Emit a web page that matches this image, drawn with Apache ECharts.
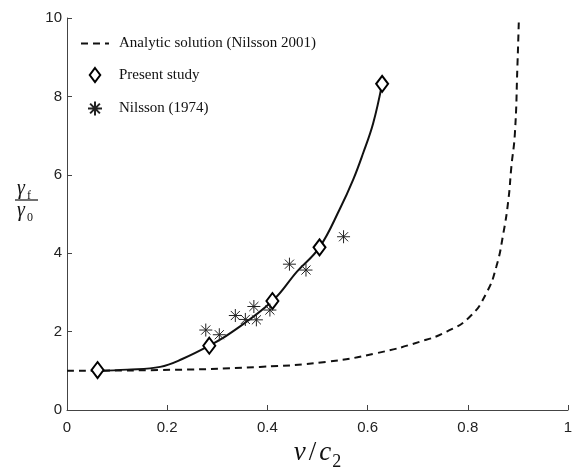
<!DOCTYPE html>
<html>
<head>
<meta charset="utf-8">
<script src="https://cdn.jsdelivr.net/npm/echarts@6/dist/echarts.min.js"></script>
<style>
html,body{margin:0;padding:0;background:#fff;}
#main{width:578px;height:469px;}
</style>
</head>
<body>
<div id="main"></div>
<script>
// analytic curve (dashed)
var analyticX = [0, 0.186, 0.385, 0.518, 0.618, 0.704, 0.758, 0.804, 0.837, 0.857, 0.871, 0.881, 0.887, 0.894, 0.899, 0.902];
var analyticY = [1.0, 1.02, 1.10, 1.23, 1.45, 1.74, 2.0, 2.38, 2.98, 3.66, 4.51, 5.36, 6.21, 7.06, 8.76, 10.0];
// fitted curve through present study (solid)
var fitX = [0.06, 0.12, 0.186, 0.23, 0.284, 0.326, 0.41, 0.459, 0.504, 0.545, 0.571, 0.591, 0.611, 0.629];
var fitY = [1.0, 1.03, 1.10, 1.30, 1.64, 1.96, 2.78, 3.53, 4.15, 5.14, 5.87, 6.55, 7.31, 8.32];
// present study points
var presentX = [0.061, 0.284, 0.41, 0.504, 0.629];
var presentY = [1.02, 1.64, 2.78, 4.15, 8.32];
// Nilsson (1974) points
var nilssonX = [0.277, 0.304, 0.336, 0.356, 0.378, 0.373, 0.405, 0.444, 0.477, 0.552];
var nilssonY = [2.04, 1.92, 2.41, 2.31, 2.30, 2.64, 2.55, 3.72, 3.57, 4.42];

var xTicks = [0, 0.2, 0.4, 0.6, 0.8, 1];
var yTicks = [0, 2, 4, 6, 8, 10];

var pairs = function(xs, ys){
  var out = [];
  for(var i=0;i<xs.length;i++){
    out.push([xs[i], ys[i]]);
  }
  return out;
};

var star = 'path://M0,-10L0,10M-10,0L10,0M-7,-7L7,7M-7,7L7,-7';
var diamond = 'path://M0,-8L6,0L0,8L-6,0Z';
var serif = '"Liberation Serif", "DejaVu Serif", serif';
var sans = '"Liberation Sans", Arial, sans-serif';

var myChart = echarts.init(document.getElementById('main'));
var option = {
  animation: false,
  backgroundColor: '#fff',
  grid: {left: 67, right: 10, top: 18, bottom: 59, outerBoundsMode: 'none', containLabel: false},
  legend: {
    orient: 'vertical',
    left: 75,
    top: 31,
    itemWidth: 28,
    itemHeight: 14,
    itemGap: 16,
    data: [
      {name: 'Analytic solution (Nilsson 2001)', itemStyle: {opacity: 0}},
      {name: 'Present study', icon: diamond},
      {name: 'Nilsson (1974)'}
    ],
    textStyle: {fontFamily: serif, fontSize: 15, color: '#111', padding: [0, 0, 0, 5]}
  },
  xAxis: {
    type: 'value',
    min: xTicks[0],
    max: xTicks[xTicks.length-1],
    interval: 0.2,
    axisLine: {lineStyle: {color: '#444', width: 1}},
    axisTick: {inside: true, length: 5, lineStyle: {color: '#444'}},
    splitLine: {show: false},
    axisLabel: {margin: 10, fontFamily: sans, fontSize: 15, color: '#222',
      formatter: function(v){ return String(Math.round(v*10)/10); }},
    name: '{i|v}{n|/}{i|c}{s|2}',
    nameLocation: 'middle',
    nameGap: 23,
    nameTextStyle: {
      rich: {
        i: {fontFamily: serif, fontStyle: 'italic', fontSize: 27, color: '#111', verticalAlign: 'bottom'},
        n: {fontFamily: serif, fontSize: 27, color: '#111', verticalAlign: 'bottom', padding: [0, 3, 0, 3]},
        s: {fontFamily: serif, fontSize: 18, color: '#111', verticalAlign: 'bottom', padding: [0, 0, -4, 1]}
      }
    }
  },
  yAxis: {
    type: 'value',
    min: yTicks[0],
    max: yTicks[yTicks.length-1],
    interval: 2,
    axisLine: {show: true, lineStyle: {color: '#444', width: 1}},
    axisTick: {show: true, inside: true, length: 5, lineStyle: {color: '#444'}},
    splitLine: {show: false},
    axisLabel: {margin: 5, fontFamily: sans, fontSize: 15, color: '#222'}
  },
  graphic: [
    {type: 'text', x: 17, y: 179, style: {text: 'γ', fontFamily: serif, fontStyle: 'italic', fontSize: 20, fill: '#111'}},
    {type: 'text', x: 27, y: 190, style: {text: 'f', fontFamily: serif, fontSize: 12, fill: '#111'}},
    {type: 'line', shape: {x1: 15, y1: 200, x2: 38, y2: 200}, style: {stroke: '#111', lineWidth: 1.2}},
    {type: 'text', x: 17, y: 201, style: {text: 'γ', fontFamily: serif, fontStyle: 'italic', fontSize: 20, fill: '#111'}},
    {type: 'text', x: 27, y: 212, style: {text: '0', fontFamily: serif, fontSize: 12, fill: '#111'}}
  ],
  series: [
    {
      name: 'Analytic solution (Nilsson 2001)',
      type: 'line',
      data: pairs(analyticX, analyticY),
      smooth: 0.5,
      symbol: 'none',
      lineStyle: {color: '#111', width: 2, type: [7, 5]},
      itemStyle: {color: '#111'}
    },
    {
      name: 'fit',
      type: 'line',
      data: pairs(fitX, fitY),
      smooth: 0.4,
      symbol: 'none',
      lineStyle: {color: '#111', width: 2},
      z: 3
    },
    {
      name: 'Present study',
      type: 'scatter',
      data: pairs(presentX, presentY),
      symbol: diamond,
      symbolSize: [12, 16],
      itemStyle: {color: '#fff', borderColor: '#000', borderWidth: 2, opacity: 1},
      z: 4
    },
    {
      name: 'Nilsson (1974)',
      type: 'scatter',
      data: pairs(nilssonX, nilssonY),
      symbol: star,
      symbolSize: 13,
      itemStyle: {color: 'none', borderColor: '#222', borderWidth: 1, opacity: 1},
      z: 5
    }
  ]
};
myChart.setOption(option);
window.addEventListener("resize", function(){
  myChart.resize();
});
</script>
</body>
</html>
